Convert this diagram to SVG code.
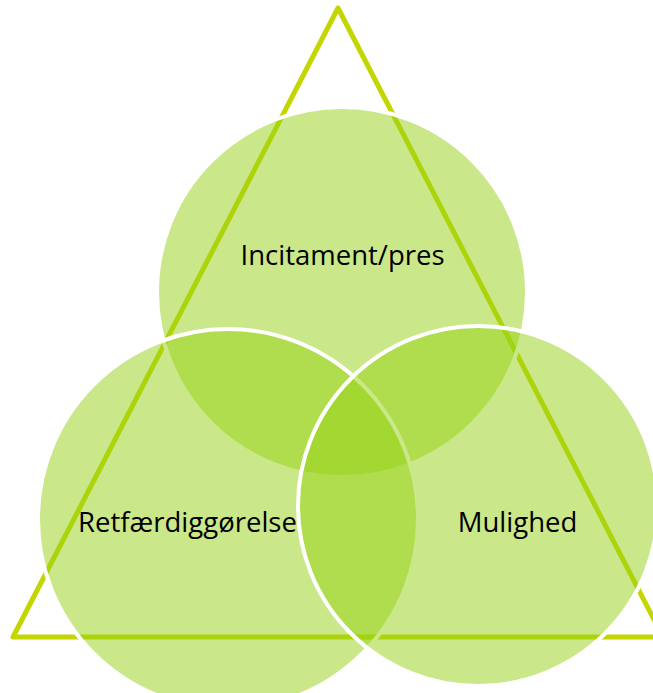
<svg xmlns="http://www.w3.org/2000/svg" width="653" height="693" viewBox="0 0 653 693">
<style>
.tri{fill:none;stroke:#C4D600;stroke-width:5;stroke-linejoin:round}
.c{fill:#96D214;fill-opacity:0.5;stroke:#FFFFFF;stroke-width:4}
.t{font-family:"Open Sans","Liberation Sans",sans-serif;font-size:27.5px;fill:#000000;text-anchor:middle}
</style>
<rect width="653" height="693" fill="#FFFFFF"/>
<g id="connectors">
<polygon class="tri" points="338,8 13,637 663,637"/>
</g>
<g id="node-incitament">
<circle class="c" cx="342" cy="292" r="185"/>
</g>
<g id="node-retfaerdiggorelse">
<circle class="c" cx="228" cy="519" r="190"/>
</g>
<g id="node-mulighed">
<circle class="c" cx="478" cy="506" r="180"/>
</g>
<g id="labels">
<text class="t" x="342.5" y="265">Incitament/pres</text>
<text class="t" x="187.5" y="532">Retfærdiggørelse</text>
<text class="t" x="517.5" y="532">Mulighed</text>
</g>
</svg>
